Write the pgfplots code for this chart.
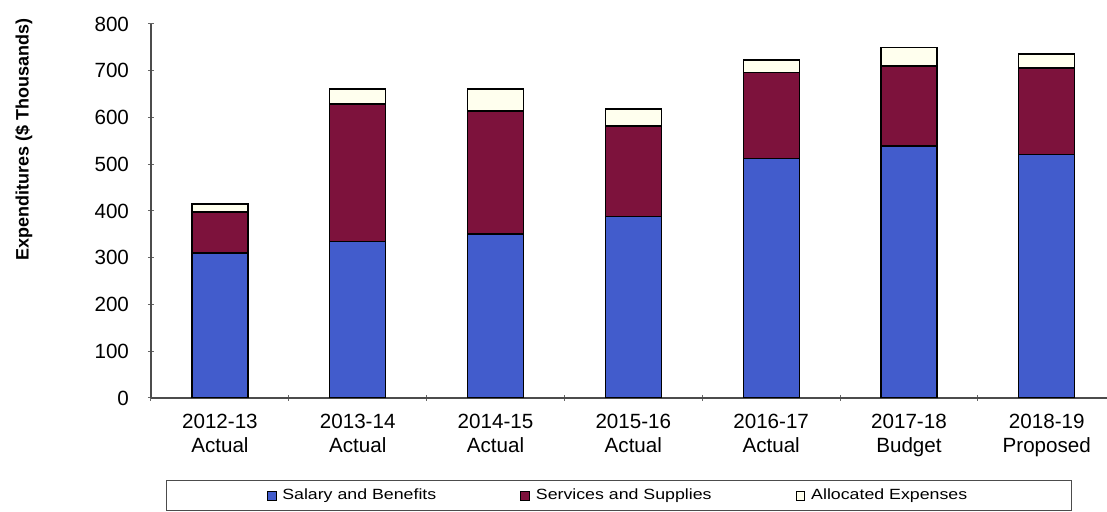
\documentclass[border=0pt]{standalone}
\usepackage{pgfplots}
\pgfplotsset{compat=1.18}
\usepackage{fontspec}
\setmainfont{Liberation Sans}
\newfontfamily\legfont[FakeStretch=1.2]{Liberation Sans}
\definecolor{salblue}{RGB}{66,92,204}
\definecolor{svcmaroon}{RGB}{125,18,60}
\definecolor{allocw}{RGB}{255,255,238}
\begin{document}
\begin{tikzpicture}
\useasboundingbox (-75.5pt,-57pt) rectangle (478pt,199pt);
\begin{axis}[
  at={(0,0)}, anchor=south west,
  scale only axis,
  width=478pt, height=187pt,
  ybar stacked, bar width=28pt,
  xmin=-0.5, xmax=6.437,
  ymin=0, ymax=800,
  ytick={0,100,...,800},
  xtick={0,...,6},
  xticklabels={{2012-13\\Actual},{2013-14\\Actual},{2014-15\\Actual},{2015-16\\Actual},{2016-17\\Actual},{2017-18\\Budget},{2018-19\\Proposed}},
  minor xtick={-0.5,0.5,1.5,2.5,3.5,4.5,5.5},
  major x tick style={draw=none},
  minor tick length=3pt, major tick length=3pt,
  tick align=outside,
  axis lines=left,
  axis line style={-, draw=black!70, line width=0.6pt},
  every tick/.style={draw=black!60, line width=0.5pt},
  /pgf/number format/assume math mode=true,
  x tick label style={align=center, font=\fontsize{10.3}{12.2}\selectfont, yshift=-3pt},
  y tick label style={font=\fontsize{10.3}{12}\selectfont, xshift=-6pt},
  ylabel={Expenditures (\$ Thousands)},
  ylabel style={at={(axis description cs:-0.133,0.69)}, anchor=center, font=\bfseries\fontsize{9}{10}\selectfont},
  legend columns=3,
  legend style={at={(axis description cs:0.4895,0)}, yshift=-48.8pt, anchor=center,
    draw=black!70, line width=0.6pt, inner xsep=50pt, inner ysep=2pt,
    font=\legfont\fontsize{7.4}{8.5}\selectfont,
    /tikz/every odd column/.append style={column sep=1pt},
    /tikz/every even column/.append style={column sep=40pt}},
  legend image code/.code={\draw[#1, draw=black, line width=0.4pt] (0pt,-2.2pt) rectangle (4.4pt,2.2pt);},
]
\addplot[fill=salblue, draw=black, line width=0.6pt] coordinates {(0,310) (1,334) (2,351) (3,389) (4,513) (5,539) (6,520)};
\addplot[fill=svcmaroon, draw=black, line width=0.6pt] coordinates {(0,88) (1,295) (2,263) (3,193) (4,184) (5,171) (6,186)};
\addplot[fill=allocw, draw=black, line width=0.6pt] coordinates {(0,17) (1,32) (2,47) (3,36) (4,26) (5,39) (6,30)};
\legend{Salary and Benefits, Services and Supplies, Allocated Expenses}
\end{axis}
\end{tikzpicture}
\end{document}
